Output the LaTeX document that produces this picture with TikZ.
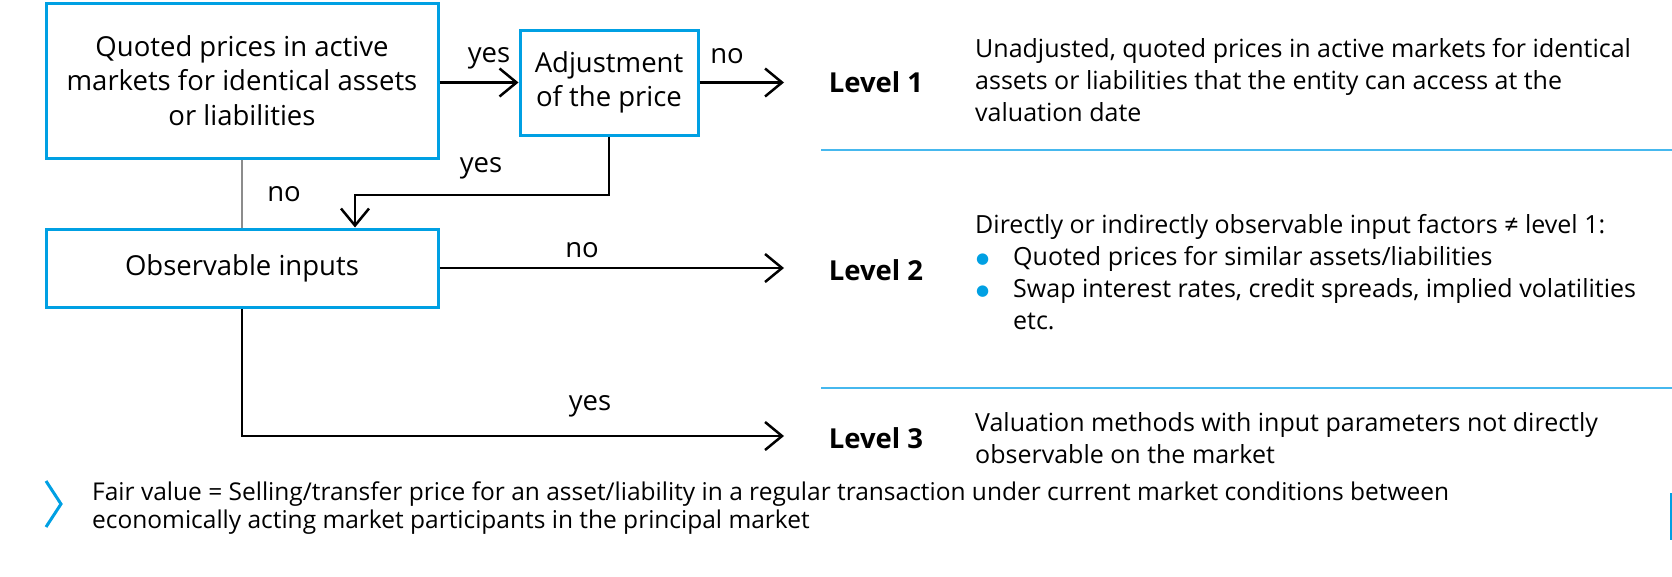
\documentclass[tikz,border=0pt]{standalone}
\usepackage{fontspec}
\setmainfont{Open Sans}
\newfontfamily\dotfont{DejaVu Sans}
\usetikzlibrary{arrows.meta}
\definecolor{fvblue}{RGB}{0,160,227}
\definecolor{fvrule}{RGB}{70,184,238}
\definecolor{fvstem}{RGB}{140,140,140}
\newcommand\fvtext{\fontsize{25}{32}\selectfont}
\newcommand\fvbig{\fontsize{27.5}{34.5}\selectfont}
\newcommand\fvfoot{\fontsize{24.5}{28.5}\selectfont}
\newcommand\fvdot{\makebox[38pt][l]{\hspace{1pt}\raisebox{2pt}{\textcolor{fvblue}{\dotfont\fontsize{15}{15}\selectfont ●}}}}
\begin{document}
\begin{tikzpicture}[x=1pt,y=-1pt,
  box/.style={draw=fvblue, line width=3pt, align=center, inner sep=0pt, font=\fvbig},
  flow/.style={line width=2.5pt, draw=black, -{Straight Barb[length=17pt,width=28pt,line width=2.5pt]}},
  lbl/.style={font=\fvbig, inner sep=0pt},
  level/.style={font=\fvbig\bfseries, inner sep=0pt},
  desc/.style={font=\fvtext, inner sep=0pt, anchor=west, align=left},
  sep/.style={draw=fvrule, line width=2pt}]
\useasboundingbox (0,0) rectangle (1672,576);

% decision boxes
\node[box, minimum width=392pt, minimum height=155pt] (quoted) at (242,80.5)
  {Quoted prices in active\\markets for identical assets\\or liabilities};
\node[box, minimum width=178pt, minimum height=105pt] (adjust) at (609,82.5)
  {Adjustment\\of the price};
\node[box, minimum width=392pt, minimum height=78pt] (observ) at (242,268)
  {Observable inputs};

% arrow end points in front of the level labels
\coordinate (in1) at (784,82.5);
\coordinate (in2) at (784,268);
\coordinate (in3) at (784,436);
\coordinate (bend) at (355,195);

% connectors
\draw[flow] (adjust.west -| quoted.east) -- (adjust.west);
\draw[flow] (adjust.east) -- (in1);
\draw[flow] (adjust.south) |- (bend) -- (bend |- observ.north);
\draw[fvstem, line width=2pt] (quoted.south) -- (observ.north);
\draw[flow] (observ.east) -- (in2);
\draw[flow] (observ.south) |- (in3);

% connector labels
\node[lbl] (y1) at (489,58) {yes};
\node[lbl] (n1) at (727,56) {no};
\node[lbl] (y2) at (481,168) {yes};
\node[lbl] (n2) at (284,194) {no};
\node[lbl] (n3) at (582,250) {no};
\node[lbl] (y3) at (590,406) {yes};

% levels
\node[level] (lv1) at (876,82) {Level 1};
\node[level] (lv2) at (876,270) {Level 2};
\node[level] (lv3) at (876,438) {Level 3};

\node[desc] (d1) at (975,80) {Unadjusted, quoted prices in active markets for identical\\assets or liabilities that the entity can access at the\\valuation date};
\node[desc] (d2) at (975,272) {Directly or indirectly observable input factors ≠ level 1:\\
  \fvdot Quoted prices for similar assets/liabilities\\
  \fvdot Swap interest rates, credit spreads, implied volatilities\\
  \hspace{38pt}etc.};
\node[desc] (d3) at (975,438) {Valuation methods with input parameters not directly\\observable on the market};

% separators between levels
\draw[sep] (821,150) -- (1672,150);
\draw[sep] (821,388) -- (1672,388);

% footer
\draw[fvblue, line width=3pt] (46,481) -- (61,504) -- (46,527);
\node[desc, font=\fvfoot] (foot) at (92,508) {Fair value = Selling/transfer price for an asset/liability in a regular transaction under current market conditions between\\economically acting market participants in the principal market};
\draw[fvblue, line width=2pt] (1671,493) -- (1671,540);
\end{tikzpicture}
\end{document}
